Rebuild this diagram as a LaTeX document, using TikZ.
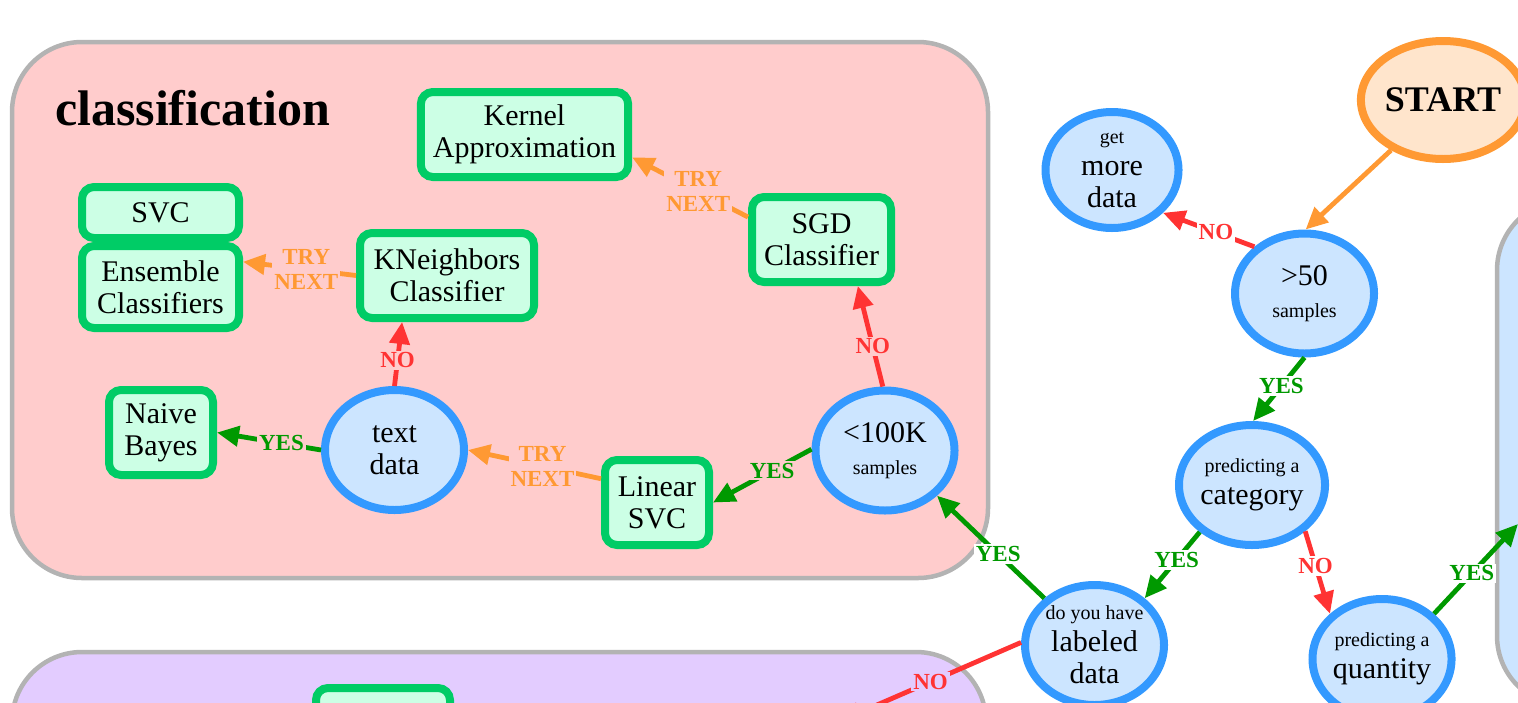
\documentclass[tikz,border=0pt]{standalone}
\usepackage{fontspec}
\setmainfont{Liberation Serif}
\usepackage{xcolor}
\usetikzlibrary{arrows.meta,shapes.geometric}

\definecolor{pinkbg}{HTML}{FFCCCC}
\definecolor{purplebg}{HTML}{E3CCFF}
\definecolor{bluebg}{HTML}{CCE5FF}
\definecolor{clgray}{HTML}{B3B3B3}
\definecolor{qfill}{HTML}{CCE5FF}
\definecolor{qborder}{HTML}{3399FF}
\definecolor{estfill}{HTML}{CCFFE5}
\definecolor{estborder}{HTML}{00CC66}
\definecolor{startfill}{HTML}{FFE5CC}
\definecolor{startborder}{HTML}{FF9933}
\definecolor{yescol}{HTML}{009900}
\definecolor{nocol}{HTML}{FF3333}
\definecolor{trycol}{HTML}{FF9933}

\newcommand\nodetxt{\fontsize{15}{16}\selectfont}
\newcommand\subtxt{\fontsize{10}{11}\selectfont}
\newcommand\edgetxt{\fontsize{11.5}{12.5}\selectfont\bfseries}
\newcommand\headtxt{\fontsize{25}{28}\selectfont\bfseries}

\begin{document}
\begin{tikzpicture}[x=0.5pt,y=-0.5pt,
    decision/.style={ellipse, draw=qborder, fill=qfill, line width=4pt, minimum width=69.5pt, minimum height=60pt, inner sep=0pt, align=center, font=\nodetxt},
    estimator/.style={rectangle, rounded corners=6pt, draw=estborder, fill=estfill, line width=4pt, inner xsep=6pt, inner ysep=1pt, minimum height=42.5pt, align=center, font=\nodetxt},
    cluster/.style={draw=clgray, line width=2.25pt, rounded corners=35pt},
    link/.style={line width=2.4pt, -{Triangle[length=11pt,width=10pt]}},
    yes/.style={link, draw=yescol},
    no/.style={link, draw=nocol},
    try/.style={link, draw=trycol},
    lbl/.style={font=\edgetxt, inner sep=1pt, align=center},
  ]
  \useasboundingbox (0,0) rectangle (1518,702);
  \clip (0,0) rectangle (1518,702);

  % clusters
  \draw[cluster, fill=pinkbg] (12,42) rectangle (988,578);
  \draw[cluster, fill=purplebg] (12,652) rectangle (986,820);
  \draw[cluster, fill=bluebg] (1497,200) rectangle (1720,706);
  \node[font=\headtxt, anchor=west] (title) at (48,108) {classification};

  % decisions
  \node[ellipse, draw=startborder, fill=startfill, line width=4pt, minimum width=69pt, minimum height=59pt, inner sep=0pt, font=\fontsize{18}{20}\selectfont\bfseries] (start) at (1443,100) {START};
  \node[decision, minimum width=66.5pt, minimum height=58pt] (more) at (1112,170) {{\subtxt get}\\more\\data};
  \node[decision] (n50) at (1304.5,293.5) {>50\\{\subtxt samples}};
  \node[decision] (cat) at (1252,485) {{\subtxt predicting a}\\category};
  \node[decision] (labeled) at (1094.5,645) {{\subtxt do you have}\\labeled\\data};
  \node[decision] (quant) at (1382,659) {{\subtxt predicting a}\\quantity};
  \node[decision] (k100) at (885,450.5) {<100K\\{\subtxt samples}};
  \node[decision] (textd) at (394.5,450) {text\\data};

  % estimators
  \node[estimator, minimum width=103.5pt] (kernel) at (524.5,134.5) {Kernel\\Approximation};
  \node[estimator, minimum width=67.5pt] (sgd) at (821.5,239.5) {SGD\\Classifier};
  \node[estimator, minimum width=78.5pt, minimum height=25.5pt] (svc) at (160.5,212.5) {SVC};
  \node[estimator, minimum width=78.5pt, minimum height=41pt] (ens) at (160.5,287) {Ensemble\\Classifiers};
  \node[estimator, minimum width=87pt] (kn) at (447,275.5) {KNeighbors\\Classifier};
  \node[estimator, minimum width=52pt] (naive) at (161,432.5) {Naive\\Bayes};
  \node[estimator, minimum width=52pt] (linear) at (657,502.5) {Linear\\SVC};
  \node[estimator, minimum width=67pt, minimum height=42pt] (lower) at (383,730) {};

  \coordinate (regr) at (1518,524);
  \coordinate (unsup) at (840,721);

  % edges
  \draw[try] (start.224) -- (n50.89);
  \draw[no] (n50.137) -- node[lbl, fill=white, text=nocol, pos=0.42] {NO} (more.-40);
  \draw[yes] (n50.270) -- node[lbl, fill=white, text=yescol, pos=0.45] {YES} (cat.89);
  \draw[yes] (cat.222) -- node[lbl, fill=white, text=yescol, pos=0.42] {YES} (labeled.43);
  \draw[no] (cat.-41) -- node[lbl, fill=white, text=nocol, pos=0.42] {NO} (quant.139);
  \draw[yes] (quant.41) -- node[lbl, fill=white, text=yescol, pos=0.45] {YES} (regr);
  \draw[yes] (labeled.137) -- node[lbl, fill=white, text=yescol, pos=0.43] {YES} (k100.-41);
  \draw[no] (labeled.178) -- node[lbl, fill=purplebg, text=nocol, pos=0.5] {NO} (unsup);
  \draw[no] (k100.92) -- node[lbl, fill=pinkbg, text=nocol, pos=0.4] {NO} (sgd.-52);
  \draw[yes] (k100.179) -- node[lbl, fill=pinkbg, text=yescol, pos=0.4] {YES} (linear.0);
  \draw[try] (linear.157) -- node[lbl, fill=pinkbg, text=trycol, pos=0.44] {TRY\\NEXT} (textd.0);
  \draw[yes] (textd.180) -- node[lbl, fill=pinkbg, text=yescol, pos=0.38] {YES} (naive.0);
  \draw[no] (textd.90) -- node[lbl, fill=pinkbg, text=nocol, pos=0.4] {NO} (kn.226);
  \draw[try] (kn.180) -- node[lbl, fill=pinkbg, text=trycol, pos=0.44] {TRY\\NEXT} (ens.17);
  \draw[try] (sgd.163) -- node[lbl, fill=pinkbg, text=trycol, pos=0.43] {TRY\\NEXT} (kernel.-12);
\end{tikzpicture}
\end{document}
